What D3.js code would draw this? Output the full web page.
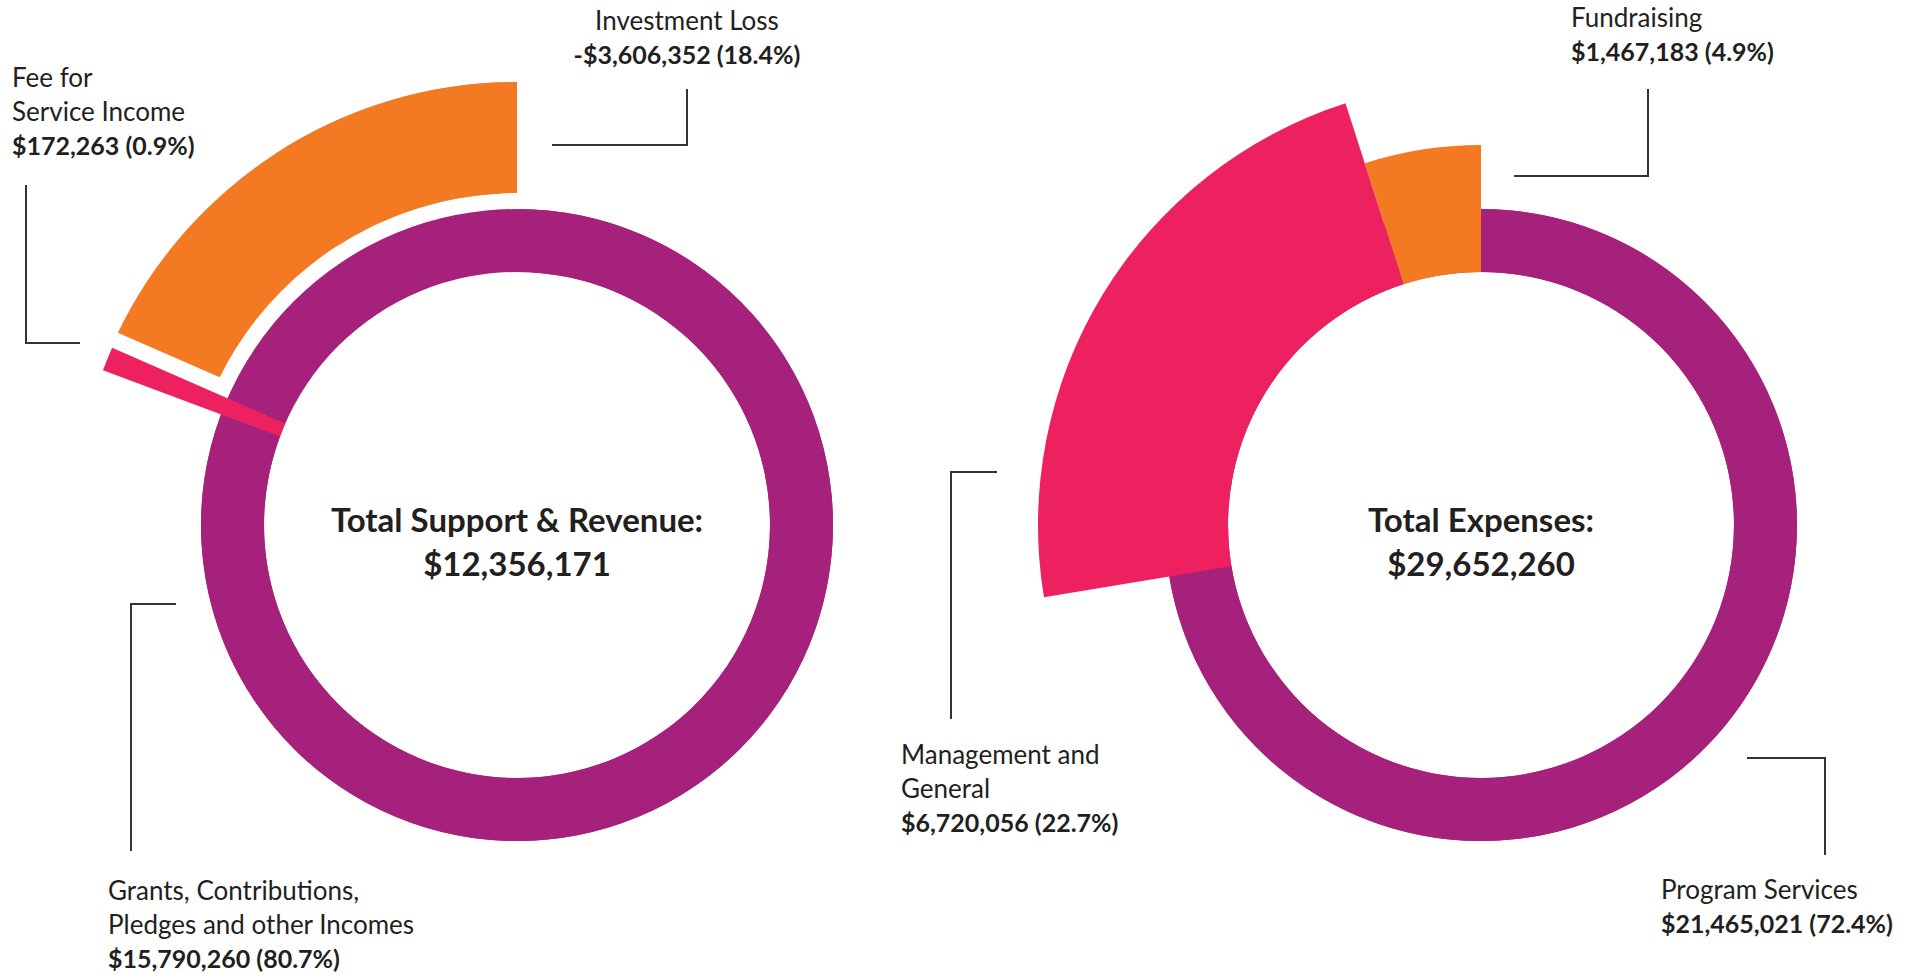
<!DOCTYPE html>
<html>
<head>
<meta charset="utf-8">
<script src="https://cdnjs.cloudflare.com/ajax/libs/d3/7.8.5/d3.min.js"></script>
<style>
  html, body { margin: 0; padding: 0; background: #fff; }
  svg { display: block; font-family: Lato, "Noto Sans", sans-serif; }
  .lbl { font-size: 26px; fill: #231f20; }
  .lbl .val { font-weight: 700; font-size: 25px; }
  .total { font-size: 33px; font-weight: 700; fill: #231f20; text-anchor: middle; }
  .leader { fill: none; stroke: #333; stroke-width: 2; }
</style>
</head>
<body>
<svg width="1911" height="974"></svg>
<script>
// revenue side
var revenueNames = [["Grants, Contributions,", "Pledges and other Incomes"], ["Fee for", "Service Income"], ["Investment Loss"]];
var revenueValues = [15790260, 172263, -3606352];
var revenueTitle = "Total Support & Revenue:";

// expense side
var expenseNames = [["Program Services"], ["Management and", "General"], ["Fundraising"]];
var expenseValues = [21465021, 6720056, 1467183];
var expenseTitle = "Total Expenses:";

var colors = ["#a6217c", "#ee2160", "#f37a22"];

var svg = d3.select("svg");

var fmtMoney = d3.formatLocale({decimal: ".", thousands: ",", grouping: [3], currency: ["$", ""], minus: "-"}).format("$,");

// radii for ring and the pieces sticking out of it
var ringIn = 253, ringOut = 316;

var charts = [
  {
    cx: 517, cy: 525,
    names: revenueNames, values: revenueValues, title: revenueTitle,
    radii: [[ringIn, ringOut], [ringIn, 442], [332, 443]],
    gap: [0, 0, 16],
    labels: [
      {x: -409, y: 375, anchor: "start", line: [[-341, 79], [-386, 79], [-386, 326]]},
      {x: -505, y: -438, anchor: "start", line: [[-491, -340], [-491, -182], [-437, -182]]},
      {x: 170, y: -495, anchor: "middle", line: [[35, -380], [170, -380], [170, -436]]}
    ]
  },
  {
    cx: 1481, cy: 525,
    names: expenseNames, values: expenseValues, title: expenseTitle,
    radii: [[ringIn, ringOut], [ringIn, 443], [ringIn, 380]],
    gap: [0, 0, 0],
    labels: [
      {x: 180, y: 374, anchor: "start", line: [[266, 233], [344, 233], [344, 330]]},
      {x: -580, y: 239, anchor: "start", line: [[-484, -53], [-530, -53], [-530, 194]]},
      {x: 90, y: -498, anchor: "start", line: [[33, -349], [167, -349], [167, -436]]}
    ]
  }
];

charts.forEach(function(c) {
  var g = svg.append("g").attr("transform", "translate(" + c.cx + "," + c.cy + ")");

  var absTotal = d3.sum(c.values, function(v) { return Math.abs(v); });
  var netTotal = d3.sum(c.values);

  var pie = d3.pie().sort(null).value(function(v) { return Math.abs(v); });
  var slices = pie(c.values);

  // base ring
  g.append("path")
    .attr("d", d3.arc().innerRadius(ringIn).outerRadius(ringOut)({startAngle: 0, endAngle: 2 * Math.PI}))
    .attr("fill", colors[0]);

  slices.forEach(function(d, i) {
    var arc = d3.arc().innerRadius(c.radii[i][0]).outerRadius(c.radii[i][1]);
    if (c.gap[i] > 0) {
      //white gap only on the side next to the previous slice
      var padR = 400;
      g.append("path")
        .attr("d", arc.padRadius(padR).padAngle(2 * c.gap[i] / padR)(d))
        .attr("fill", colors[i]);
      g.append("path")
        .attr("d", d3.arc().innerRadius(c.radii[i][0]).outerRadius(c.radii[i][1])({startAngle: (d.startAngle + d.endAngle) / 2, endAngle: d.endAngle}))
        .attr("fill", colors[i]);
    } else {
      g.append("path").attr("d", arc(d)).attr("fill", colors[i]);
    }
  });

  // leader lines + labels
  c.labels.forEach(function(l, i) {
    g.append("path").attr("class", "leader").attr("d", d3.line()(l.line));
    var t = g.append("text").attr("class", "lbl").attr("text-anchor", l.anchor);
    var lines = c.names[i];
    lines.forEach(function(s, k) {
      t.append("tspan").attr("x", l.x).attr("y", l.y + k * 34).text(s);
    });
    var pct = (100 * Math.abs(c.values[i]) / absTotal).toFixed(1);
    t.append("tspan").attr("class", "val").attr("x", l.x).attr("y", l.y + lines.length * 34)
      .text(fmtMoney(c.values[i]) + " (" + pct + "%)");
  });

  g.append("text").attr("class", "total").attr("y", 7).text(c.title);
  g.append("text").attr("class", "total").attr("y", 51).text(fmtMoney(netTotal));
});
</script>
</body>
</html>
